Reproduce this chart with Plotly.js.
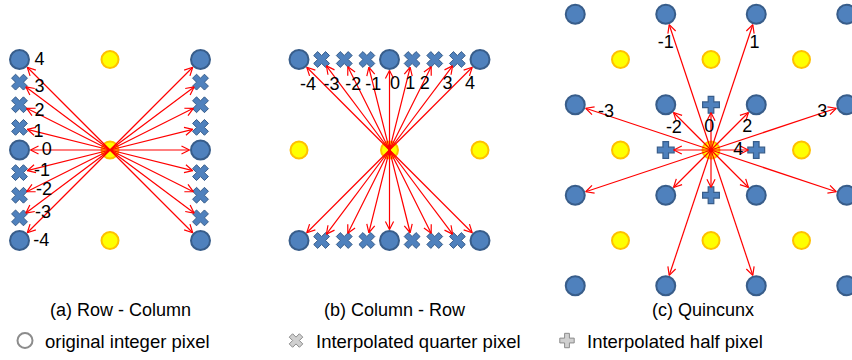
<!DOCTYPE html>
<html>
<head>
<meta charset="utf-8">
<script src="https://cdn.plot.ly/plotly-3.0.1.min.js"></script>
<style>
  html, body { margin: 0; padding: 0; background: #fff; }
  #chart { width: 852px; height: 360px; }
</style>
</head>
<body>
<div id="chart"></div>
<script>
// All positions are in integer-pixel units: 1 unit = spacing of the original pixel grid.

// Sub-pixel phases along one integer-pixel step and their filter indices
const phaseOffsets = [1, 0.75, 0.5, 0.25, 0, -0.25, -0.5, -0.75, -1];
const phaseLabels  = ['4', '3', '2', '1', '0', '-1', '-2', '-3', '-4'];

// (a) Row - Column: pixel columns on both sides of the current sample
const rowColColumns = [-1, 1];
const rowColYellowX = [0, 0, 0];
const rowColYellowY = [1, 0, -1];
const rowColLabelX  = [-0.78, -0.78, -0.78, -0.79, -0.70, -0.75, -0.73, -0.74, -0.76];
const rowColLabelY  = [0.99, 0.69, 0.42, 0.19, 0.0, -0.235, -0.45, -0.70, -1.01];

// (b) Column - Row: pixel rows above and below the current sample
const colRowOffsets = [-1, -0.75, -0.5, -0.25, 0, 0.25, 0.5, 0.75, 1];
const colRowLabels  = ['-4', '-3', '-2', '-1', '0', '1', '2', '3', '4'];
const colRowRows    = [1, -1];
const colRowYellowX = [-1, 0, 1];
const colRowYellowY = [0, 0, 0];
const colRowLabelX  = [-0.90, -0.64, -0.40, -0.18, 0.06, 0.23, 0.39, 0.64, 0.89];
const colRowLabelY  = [0.71, 0.71, 0.71, 0.71, 0.72, 0.72, 0.72, 0.72, 0.72];

// (c) Quincunx: integer pixels on the half-offset lattice
const qxIntCols    = [-1.5, -0.5, 0.5, 1.5];
const qxIntRows    = [1.5, 0.5, -0.5, -1.5];
const qxYellowCols = [-1, 0, 1];
const qxYellowRows = [1, 0, -1];
const qxHalfX      = [0, -0.5, 0.5, 0];
const qxHalfY      = [0.5, 0, 0, -0.5];
const qxTargetX    = [-0.5, 0.5, -1.5, 1.5, -0.5, 0.5, 0, 0.5, -0.5, 0, -0.5, 0.5, -1.5, 1.5, -0.5, 0.5];
const qxTargetY    = [1.5, 1.5, 0.5, 0.5, 0.5, 0.5, 0.5, 0, 0, -0.5, -0.5, -0.5, -0.5, -0.5, -1.5, -1.5];
const qxTargetKind = ['int', 'int', 'int', 'int', 'int', 'int', 'half', 'half', 'half', 'half', 'int', 'int', 'int', 'int', 'int', 'int'];
const qxLabels     = ['-1', '1', '-3', '3', '-2', '2', '0', '4'];
const qxLabelX     = [-0.50, 0.48, -1.16, 1.23, -0.41, 0.40, -0.02, 0.30];
const qxLabelY     = [1.18, 1.18, 0.41, 0.41, 0.24, 0.25, 0.25, 0.0];

// Captions and legend entries
const panelTitles  = ['(a) Row - Column', '(b) Column - Row', '(c) Quincunx'];
const legendNames  = ['original integer pixel', 'Interpolated quarter pixel', 'Interpolated half pixel'];

// ---- drawing ----
const W = 852, H = 360;
const PX = 90.5;          // screen px per integer-pixel unit (same in x and y)
const CY = 150;           // vertical centre of the panels (px from top)
const FONT = 'Liberation Sans, Arial, sans-serif';
const BLUE = '#4F81BD', BLUE_EDGE = '#385D8A';
const YELLOW = '#FFFF00', YELLOW_EDGE = '#FFC000';
const RED = '#FF0000';
const GAP = { int: 11, quarter: 8, half: 8 };   // arrow stops short of the marker
const HEAD_LEN = 9, HEAD_ANG = 27 * Math.PI / 180;

function xaxisFor(left, right, cx) {
  return { domain: [left / W, right / W], range: [(left - cx) / PX, (right - cx) / PX],
           visible: false, fixedrange: true, anchor: 'y' };
}

// Arrow from the origin to (x1, y1): shaft plus an open V head
function addArrow(xs, ys, x1, y1, gapPx) {
  const len = Math.hypot(x1, y1);
  const ux = x1 / len, uy = y1 / len;
  const tx = x1 - ux * gapPx / PX, ty = y1 - uy * gapPx / PX;
  const L = HEAD_LEN / PX, c = Math.cos(HEAD_ANG), s = Math.sin(HEAD_ANG);
  const bx = -ux, by = -uy;
  xs.push(0, tx, null, tx + L * (bx * c - by * s), tx, tx + L * (bx * c + by * s), null);
  ys.push(0, ty, null, ty + L * (bx * s + by * c), ty, ty + L * (-bx * s + by * c), null);
}

const kindOf = o => (Math.abs(o) === 0 || Math.abs(o) === 1) ? 'int' : 'quarter';

function markerTrace(ax, xs, ys, kind) {
  const m = {
    int:     { symbol: 'circle', size: 19, color: BLUE, line: { color: BLUE_EDGE, width: 2 } },
    quarter: { symbol: 'x', size: 14, color: BLUE, line: { color: BLUE_EDGE, width: 1 } },
    half:    { symbol: 'cross', size: 14, color: BLUE, line: { color: BLUE_EDGE, width: 1.2 } },
    yellow:  { symbol: 'circle', size: 17, color: YELLOW, line: { color: YELLOW_EDGE, width: 2 } }
  }[kind];
  return { type: 'scatter', mode: 'markers', x: xs, y: ys, xaxis: ax, yaxis: 'y',
           marker: m, showlegend: false, hoverinfo: 'skip', cliponaxis: false };
}
function arrowTrace(ax, xs, ys) {
  return { type: 'scatter', mode: 'lines', x: xs, y: ys, xaxis: ax, yaxis: 'y',
           line: { color: RED, width: 1.2 }, showlegend: false, hoverinfo: 'skip', cliponaxis: false };
}
function labelTrace(ax, xs, ys, txt) {
  return { type: 'scatter', mode: 'text', x: xs, y: ys, text: txt, xaxis: ax, yaxis: 'y',
           textposition: 'middle center', textfont: { family: FONT, size: 18, color: '#000' },
           showlegend: false, hoverinfo: 'skip', cliponaxis: false };
}

const traces = [];

// (a)
{
  const pts = { int: [[], []], quarter: [[], []] };
  const ax = [], ay = [];
  rowColColumns.forEach(cx => phaseOffsets.forEach(o => {
    const k = kindOf(o);
    pts[k][0].push(cx); pts[k][1].push(o);
    addArrow(ax, ay, cx, o, GAP[k]);
  }));
  traces.push(markerTrace('x', rowColYellowX, rowColYellowY, 'yellow'));
  traces.push(markerTrace('x', pts.int[0], pts.int[1], 'int'));
  traces.push(markerTrace('x', pts.quarter[0], pts.quarter[1], 'quarter'));
  traces.push(arrowTrace('x', ax, ay));
  traces.push(labelTrace('x', rowColLabelX, rowColLabelY, phaseLabels));
}

// (b)
{
  const pts = { int: [[], []], quarter: [[], []] };
  const ax = [], ay = [];
  colRowRows.forEach(ry => colRowOffsets.forEach(o => {
    const k = kindOf(o);
    pts[k][0].push(o); pts[k][1].push(ry);
    addArrow(ax, ay, o, ry, GAP[k]);
  }));
  traces.push(markerTrace('x2', colRowYellowX, colRowYellowY, 'yellow'));
  traces.push(markerTrace('x2', pts.int[0], pts.int[1], 'int'));
  traces.push(markerTrace('x2', pts.quarter[0], pts.quarter[1], 'quarter'));
  traces.push(arrowTrace('x2', ax, ay));
  traces.push(labelTrace('x2', colRowLabelX, colRowLabelY, colRowLabels));
}

// (c)
{
  const ix = [], iy = [], yx = [], yy = [];
  qxIntRows.forEach(r => qxIntCols.forEach(c => { ix.push(c); iy.push(r); }));
  qxYellowRows.forEach(r => qxYellowCols.forEach(c => { yx.push(c); yy.push(r); }));
  const ax = [], ay = [];
  qxTargetX.forEach((tx, i) => addArrow(ax, ay, tx, qxTargetY[i], GAP[qxTargetKind[i]]));
  traces.push(markerTrace('x3', yx, yy, 'yellow'));
  traces.push(markerTrace('x3', ix, iy, 'int'));
  traces.push(markerTrace('x3', qxHalfX, qxHalfY, 'half'));
  traces.push(arrowTrace('x3', ax, ay));
  traces.push(labelTrace('x3', qxLabelX, qxLabelY, qxLabels));
}

// Legend-only entries (grey key symbols)
const GREY = '#8C8C8C', GREY_FILL = '#D0D0D0';
const legendSymbols = [
  { symbol: 'circle', size: 15, color: '#FFFFFF', line: { color: GREY, width: 2 } },
  { symbol: 'x', size: 12, color: GREY_FILL, line: { color: GREY, width: 1 } },
  { symbol: 'cross', size: 12, color: GREY_FILL, line: { color: GREY, width: 1 } }
];
legendNames.forEach((name, i) => traces.push({
  type: 'scatter', mode: 'markers', x: [null], y: [null], xaxis: 'x', yaxis: 'y',
  name: name, marker: legendSymbols[i], showlegend: true, hoverinfo: 'skip'
}));

const titleX = [120, 395, 703];
const layout = {
  width: W, height: H,
  margin: { l: 0, r: 0, t: 0, b: 0 },
  paper_bgcolor: '#fff', plot_bgcolor: 'rgba(0,0,0,0)',
  xaxis:  xaxisFor(0, 220, 110),
  xaxis2: xaxisFor(280, 500, 389.5),
  xaxis3: xaxisFor(560, 852, 711),
  yaxis: { domain: [0, 1], range: [(CY - H) / PX, CY / PX], visible: false, fixedrange: true },
  showlegend: true,
  legend: {
    orientation: 'h', x: 5 / W, xanchor: 'left', y: (H - 341) / H, yanchor: 'middle',
    font: { family: FONT, size: 18.5, color: '#000' }, bgcolor: 'rgba(0,0,0,0)',
    entrywidth: 226, entrywidthmode: 'pixels', itemclick: false, itemdoubleclick: false
  },
  annotations: panelTitles.map((t, i) => ({
    text: t, xref: 'paper', yref: 'paper', x: titleX[i] / W, y: (H - 310) / H,
    xanchor: 'center', yanchor: 'middle', showarrow: false,
    font: { family: FONT, size: 18, color: '#000' }
  }))
};

Plotly.newPlot('chart', traces, layout, { staticPlot: true, displayModeBar: false });
</script>
</body>
</html>
